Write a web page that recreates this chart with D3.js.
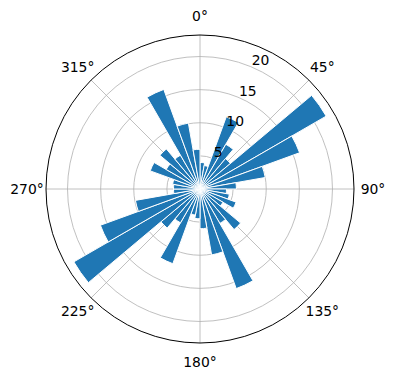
<!DOCTYPE html>
<html>
<head>
<meta charset="utf-8">
<script src="https://cdn.jsdelivr.net/npm/d3@7"></script>
<style>
  body { margin: 0; background: #fff; }
  svg text { font-family: "DejaVu Sans", sans-serif; font-size: 13.9px; fill: #000; }
</style>
</head>
<body>
<div id="chart"></div>
<script>
// bin centres (degrees, clockwise from north)
var directions = [5, 15, 25, 35, 45, 55, 65, 75, 85,
                  95, 105, 115, 125, 135, 145, 155, 165, 175,
                  185, 195, 205, 215, 225, 235, 245, 255, 265,
                  275, 285, 295, 305, 315, 325, 335, 345, 355];
var counts = [4.0, 3.6, 11.6, 7.8, 6.0, 22.0, 16.0, 10.0, 5.5,
              4.0, 4.5, 5.8, 4.0, 8.0, 6.0, 16.0, 10.1, 6.0,
              4.5, 4.0, 12.0, 5.9, 7.7, 22.0, 16.0, 9.9, 4.0,
              4.0, 4.2, 8.0, 5.9, 7.9, 5.9, 16.0, 10.1, 6.0];
var binWidth = 10;
var rTicks = [5, 10, 15, 20];
var rMax = 23.25;
var thetaTicks = [0, 45, 90, 135, 180, 225, 270, 315];

var width = 396, height = 380;
var cx = 200, cy = 189, radius = 154;

var svg = d3.select("#chart")
    .append("svg")
    .attr("width", width)
    .attr("height", height);

var g = svg.append("g").attr("transform", "translate(" + cx + "," + cy + ")");

var r = d3.scaleLinear().domain([0, rMax]).range([0, radius]);
var rad = function(d) { return d * Math.PI / 180; };

// ---- GRID ---- //
g.selectAll(".ring")
    .data(rTicks)
  .enter().append("circle")
    .attr("class", "ring")
    .attr("r", function(d) { return r(d); })
    .attr("fill", "none")
    .attr("stroke", "#b0b0b0")
    .attr("stroke-width", 0.8);

g.selectAll(".spoke")
    .data(thetaTicks)
  .enter().append("line")
    .attr("class", "spoke")
    .attr("x1", 0).attr("y1", 0)
    .attr("x2", function(d) { return r(rMax) * Math.sin(rad(d)); })
    .attr("y2", function(d) { return -r(rMax) * Math.cos(rad(d)); })
    .attr("stroke", "#b0b0b0")
    .attr("stroke-width", 0.8);

// ---- BARS ---- //
var arc = d3.arc()
    .innerRadius(0)
    .outerRadius(function(d) { return r(d.value); })
    .startAngle(function(d) { return rad(d.dir - binWidth / 2); })
    .endAngle(function(d) { return rad(d.dir + binWidth / 2); });

var bars = directions.map(function(d, i) { return { dir: d, value: counts[i] }; });

g.selectAll(".bar")
    .data(bars)
  .enter().append("path")
    .attr("class", "bar")
    .attr("d", arc)
    .attr("fill", "#1f77b4")
    .attr("stroke", "#fff")
    .attr("stroke-width", 1);

// outer frame
g.append("circle")
    .attr("r", r(rMax))
    .attr("fill", "none")
    .attr("stroke", "#000")
    .attr("stroke-width", 1);

// ---- LABELS ---- //
g.selectAll(".rlabel")
    .data(rTicks)
  .enter().append("text")
    .attr("class", "rlabel")
    .attr("x", function(d) { return r(d) * Math.sin(rad(22.5)) + 1; })
    .attr("y", function(d) { return -r(d) * Math.cos(rad(22.5)) - 1.5; })
    .text(function(d) { return d; });

g.selectAll(".tlabel")
    .data(thetaTicks)
  .enter().append("text")
    .attr("class", "tlabel")
    .attr("x", function(d) { return 173 * Math.sin(rad(d)); })
    .attr("y", function(d) { return -173 * Math.cos(rad(d)); })
    .attr("text-anchor", "middle")
    .attr("dy", "0.35em")
    .text(function(d) { return d + "°"; });
</script>
</body>
</html>
